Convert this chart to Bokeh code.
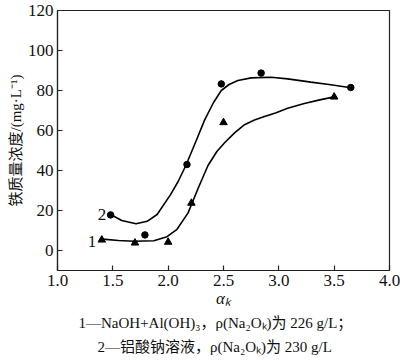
from bokeh.plotting import figure
from bokeh.models import FixedTicker, Label, Title
from bokeh.embed import file_html
from bokeh.resources import INLINE

# Measured points
s1_x = [1.40, 1.70, 2.00, 2.21, 2.50, 3.50]
s1_y = [5.3, 3.8, 4.2, 23.7, 64.0, 76.8]
s2_x = [1.48, 1.79, 2.17, 2.48, 2.84, 3.65]
s2_y = [17.8, 7.8, 43.0, 83.3, 88.7, 81.5]

# Fitted curves
c1_x = [1.41, 1.55, 1.69, 1.87, 1.99, 2.08, 2.18, 2.27, 2.36, 2.44, 2.51, 2.60, 2.69, 2.78, 2.87, 2.97, 3.08, 3.23, 3.37, 3.50]
c1_y = [5.7, 5.0, 4.6, 4.9, 6.9, 10.6, 18.8, 31.0, 42.5, 49.5, 53.9, 58.8, 62.9, 65.2, 67.0, 68.8, 71.1, 73.5, 75.3, 76.8]
c2_x = [1.48, 1.58, 1.71, 1.81, 1.90, 2.02, 2.09, 2.16, 2.25, 2.33, 2.41, 2.48, 2.55, 2.63, 2.75, 2.93, 3.08, 3.29, 3.47, 3.65]
c2_y = [18.0, 15.0, 13.4, 14.6, 18.0, 27.8, 34.5, 42.5, 54.5, 65.3, 74.0, 80.0, 83.0, 85.0, 86.3, 86.6, 85.8, 84.2, 82.9, 81.4]

x_ticks = [1.0, 1.5, 2.0, 2.5, 3.0, 3.5, 4.0]
x_tick_labels = ["1.0", "1.5", "2.0", "2.5", "3.0", "3.5", "4.0"]
y_ticks = [0, 20, 40, 60, 80, 100, 120]
y_tick_labels = ["0", "20", "40", "60", "80", "100", "120"]

y_label = "铁质量浓度/(mg·L⁻¹)"
x_label = "αₖ"
legend_1 = "1—NaOH+Al(OH)₃，ρ(Na₂Oₖ)为 226 g/L；"
legend_2 = "2—铝酸钠溶液，ρ(Na₂Oₖ)为 230 g/L"

SERIF = "'Liberation Serif', 'Times New Roman', serif"
MIX = "'Liberation Serif', 'Noto Sans CJK SC', serif"
INK = "#111111"

p = figure(width=400, height=361, x_range=(1.0, 4.0), y_range=(-10, 120),
           output_backend="svg", toolbar_location=None,
           min_border_left=57, min_border_right=11, min_border_top=10, min_border_bottom=91)
p.grid.visible = False
p.outline_line_color = "#222222"
p.outline_line_width = 1.2
p.background_fill_color = "white"
p.border_fill_color = "white"

for ax in (p.xaxis[0], p.yaxis[0]):
    ax.major_tick_in = 5
    ax.major_tick_out = 0
    ax.minor_tick_line_color = None
    ax.axis_line_color = "#222222"
    ax.axis_line_width = 1.2
    ax.major_tick_line_color = "#222222"
    ax.major_tick_line_width = 1.2
    ax.major_label_text_font = SERIF
    ax.major_label_text_font_size = "17px"
    ax.major_label_text_color = INK

p.xaxis.ticker = FixedTicker(ticks=x_ticks)
p.xaxis.major_label_overrides = {t: l for t, l in zip(x_ticks, x_tick_labels)}
p.xaxis.major_label_standoff = 4
p.xaxis.axis_label = x_label
p.xaxis.axis_label_text_font = SERIF
p.xaxis.axis_label_text_font_size = "17px"
p.xaxis.axis_label_text_font_style = "italic"
p.xaxis.axis_label_standoff = 0
p.xaxis.axis_label_text_color = INK

p.yaxis.ticker = FixedTicker(ticks=y_ticks)
p.yaxis.major_label_overrides = {t: l for t, l in zip(y_ticks, y_tick_labels)}
p.yaxis.major_label_standoff = 4
p.yaxis.axis_label = y_label
p.yaxis.axis_label_text_font = MIX
p.yaxis.axis_label_text_font_size = "15px"
p.yaxis.axis_label_text_font_style = "normal"
p.yaxis.axis_label_standoff = 1
p.yaxis.axis_label_text_color = INK

p.line(c1_x, c1_y, line_color="black", line_width=1.6)
p.line(c2_x, c2_y, line_color="black", line_width=1.6)
p.scatter(s1_x, s1_y, marker="triangle", size=7.5, color="black")
p.scatter(s2_x, s2_y, marker="circle", size=6.5, color="black")

# curve numbers
p.add_layout(Label(x=1.44, y=17.8, text="2", text_align="right", text_baseline="middle",
                   text_font=SERIF, text_font_size="17px", text_color=INK))
p.add_layout(Label(x=1.35, y=4.4, text="1", text_align="right", text_baseline="middle",
                   text_font=SERIF, text_font_size="17px", text_color=INK))

# notes below the chart
t1 = Title(text=legend_1, align="left", offset=21, text_font=MIX, text_font_size="15px",
           text_font_style="normal", text_color=INK, standoff=5)
t2 = Title(text=legend_2, align="left", offset=40, text_font=MIX, text_font_size="15px",
           text_font_style="normal", text_color=INK, standoff=7)
p.add_layout(t1, "below")
p.add_layout(t2, "below")

open("out.html", "w").write(file_html(p, INLINE))
